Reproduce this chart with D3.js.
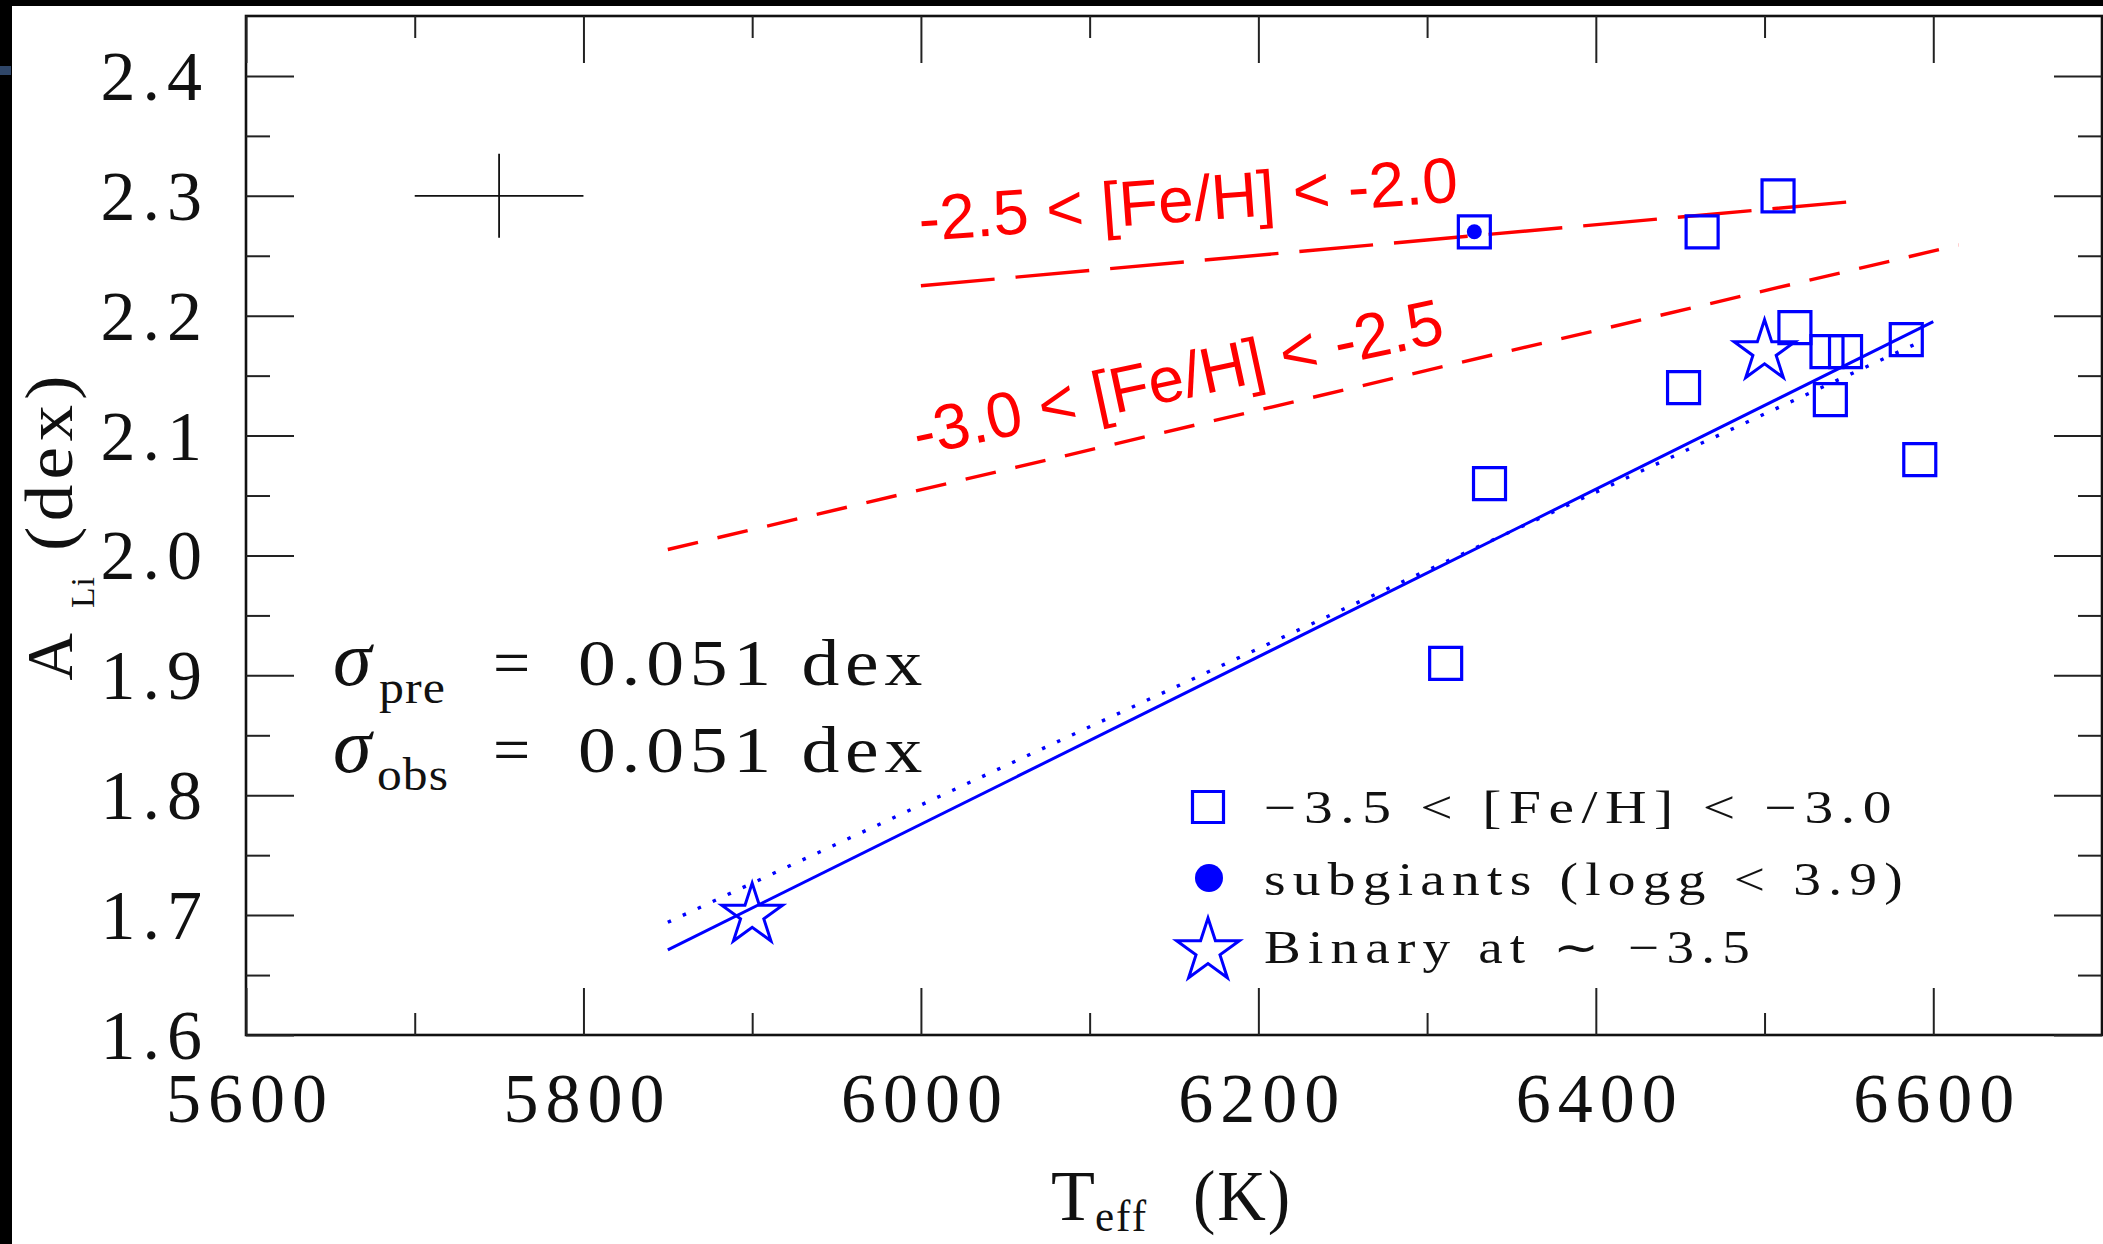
<!DOCTYPE html>
<html>
<head>
<meta charset="utf-8">
<script src="https://cdn.jsdelivr.net/npm/d3@7"></script>
<style>
  html, body { margin: 0; padding: 0; background: #fff; }
  svg { display: block; }
  .serif { font-family: "Liberation Serif", "Times New Roman", serif; fill: #111; }
  .sans { font-family: "Liberation Sans", Arial, sans-serif; }
</style>
</head>
<body>
<svg id="chart" width="2103" height="1244"></svg>
<script>
// Li abundance vs effective temperature, -3.5 < [Fe/H] < -3.0 stars
const starTeff = [6328, 6463, 6508, 6518, 6537, 6548, 6539, 6584, 6592, 6452, 6337, 6311];
const starALi  = [2.27, 2.27, 2.30, 2.19, 2.17, 2.17, 2.13, 2.18, 2.08, 2.14, 2.06, 1.91];

// subgiants (logg < 3.9)
const subgiantTeff = [6328];
const subgiantALi  = [2.27];

// binary system at [Fe/H] ~ -3.5
const binaryTeff = [6500, 5900];
const binaryALi  = [2.17, 1.70];

// linear fits (end points)
const fitTeff      = [5850, 6600];
const fitALi       = [1.671, 2.195];
const fitAltTeff   = [5850, 6595];
const fitAltALi    = [1.694, 2.180];
const metalRichTeff = [6000, 6550];   // -2.5 < [Fe/H] < -2.0
const metalRichALi  = [2.225, 2.295];
const metalMidTeff  = [5850, 6615];   // -3.0 < [Fe/H] < -2.5
const metalMidALi   = [2.005, 2.259];

// typical error bar
const errTeff = [5750];
const errALi = [2.30];
const errTeffHalf = 50;
const errALiHalf = 0.035;

// axes
const xDomain = [5600, 6700];
const yDomain = [1.6, 2.45];
const xMajorTicks = [5600, 5800, 6000, 6200, 6400, 6600];
const xMinorTicks = [5700, 5900, 6100, 6300, 6500];
const yMajorTicks = [1.6, 1.7, 1.8, 1.9, 2.0, 2.1, 2.2, 2.3, 2.4];
const yMinorTicks = [1.65, 1.75, 1.85, 1.95, 2.05, 2.15, 2.25, 2.35];

const legendLabels = ["\u22123.5 < [Fe/H] < \u22123.0", "subgiants (logg < 3.9)", "Binary at \u223C \u22123.5"];
const fitLabels = ["-2.5 < [Fe/H] < -2.0", "-3.0 < [Fe/H] < -2.5"];
const sigmaLabels = [["pre", "0.051 dex"], ["obs", "0.051 dex"]];

const BLUE = "#0000ff", RED = "#ff0000";

const svg = d3.select("#chart");
svg.append("rect").attr("width", 2103).attr("height", 1244).attr("fill", "#fff");
// dark page edges
svg.append("rect").attr("x", 0).attr("y", 0).attr("width", 2103).attr("height", 6).attr("fill", "#000");
svg.append("rect").attr("x", 0).attr("y", 0).attr("width", 12).attr("height", 1244).attr("fill", "#000");
svg.append("rect").attr("x", 0).attr("y", 66).attr("width", 11).attr("height", 9).attr("fill", "#2f4668");

const L = 246, R = 2102, T = 16, B = 1035;
const x = d3.scaleLinear().domain(xDomain).range([L, R]);
const y = d3.scaleLinear().domain(yDomain).range([B, T]);

// frame
svg.append("rect").attr("x", L).attr("y", T).attr("width", R - L).attr("height", B - T)
  .attr("fill", "none").attr("stroke", "#111").attr("stroke-width", 2.6);

function styleAxis(g) {
  g.select(".domain").remove();
  g.selectAll(".tick line").attr("stroke", "#222").attr("stroke-width", 2);
}

// bottom axis
svg.append("g").attr("transform", `translate(0,${B})`)
  .call(d3.axisBottom(x).tickValues(xMajorTicks).tickSizeInner(-47).tickSizeOuter(0).tickFormat(d3.format("d")))
  .call(styleAxis)
  .call(g => g.selectAll("text")
    .attr("class", "serif").attr("y", 87).attr("dy", 0).attr("dx", 3.5)
    .style("font-size", "70px").style("letter-spacing", "7px").attr("fill", "#111"));
svg.append("g").attr("transform", `translate(0,${B})`)
  .call(d3.axisBottom(x).tickValues(xMinorTicks).tickSizeInner(-22).tickSizeOuter(0).tickFormat(""))
  .call(styleAxis);
// top axis
svg.append("g").attr("transform", `translate(0,${T})`)
  .call(d3.axisTop(x).tickValues(xMajorTicks).tickSizeInner(-47).tickSizeOuter(0).tickFormat(""))
  .call(styleAxis);
svg.append("g").attr("transform", `translate(0,${T})`)
  .call(d3.axisTop(x).tickValues(xMinorTicks).tickSizeInner(-22).tickSizeOuter(0).tickFormat(""))
  .call(styleAxis);
// left axis
svg.append("g").attr("transform", `translate(${L},0)`)
  .call(d3.axisLeft(y).tickValues(yMajorTicks).tickSizeInner(-48).tickSizeOuter(0).tickFormat(d3.format(".1f")))
  .call(styleAxis)
  .call(g => g.selectAll("text")
    .attr("class", "serif").attr("x", -37).attr("dy", "0.335em")
    .style("font-size", "70px").style("letter-spacing", "7px").attr("fill", "#111"));
svg.append("g").attr("transform", `translate(${L},0)`)
  .call(d3.axisLeft(y).tickValues(yMinorTicks).tickSizeInner(-24).tickSizeOuter(0).tickFormat(""))
  .call(styleAxis);
// right axis
svg.append("g").attr("transform", `translate(${R},0)`)
  .call(d3.axisRight(y).tickValues(yMajorTicks).tickSizeInner(-48).tickSizeOuter(0).tickFormat(""))
  .call(styleAxis);
svg.append("g").attr("transform", `translate(${R},0)`)
  .call(d3.axisRight(y).tickValues(yMinorTicks).tickSizeInner(-24).tickSizeOuter(0).tickFormat(""))
  .call(styleAxis);

// text stretched to a given width, glyphs widened slightly as in the plotting font
function fit(sel, width, spacing) {
  return sel.style("letter-spacing", spacing + "px")
    .attr("textLength", width).attr("lengthAdjust", "spacingAndGlyphs");
}

// axis titles
const xt = svg.append("g").attr("class", "serif");
xt.append("text").attr("x", 1051).attr("y", 1220).style("font-size", "72px").text("T");
xt.append("text").attr("x", 1095).attr("y", 1231).style("font-size", "44px")
  .call(fit, 53, 2).text("eff");
xt.append("text").attr("x", 1193).attr("y", 1220).style("font-size", "72px")
  .call(fit, 99, 2).text("(K)");

const yt = svg.append("g").attr("class", "serif");
yt.append("text").attr("transform", "translate(72,657) rotate(-90)").attr("text-anchor", "middle")
  .style("font-size", "66px").text("A");
yt.append("text").attr("transform", "translate(94,608) rotate(-90)")
  .style("font-size", "34px").call(fit, 32, 1).text("Li");
yt.append("text").attr("transform", "translate(72,551) rotate(-90)")
  .style("font-size", "68px").call(fit, 181, 5).text("(dex)");

// typical error cross
const err = svg.append("g").attr("stroke", "#111").attr("stroke-width", 1.8);
err.selectAll(".eh").data(errTeff).join("line")
  .attr("x1", (d) => x(d - errTeffHalf)).attr("x2", (d) => x(d + errTeffHalf))
  .attr("y1", (d, i) => y(errALi[i])).attr("y2", (d, i) => y(errALi[i]));
err.selectAll(".ev").data(errTeff).join("line")
  .attr("x1", (d) => x(d)).attr("x2", (d) => x(d))
  .attr("y1", (d, i) => y(errALi[i] - errALiHalf)).attr("y2", (d, i) => y(errALi[i] + errALiHalf));

// fit lines
const line = d3.line().x(d => x(d[0])).y(d => y(d[1]));
function drawFit(teff, ali, color, width, dash) {
  svg.append("path").datum(d3.zip(teff, ali)).attr("d", line)
    .attr("fill", "none").attr("stroke", color).attr("stroke-width", width)
    .attr("stroke-dasharray", dash);
}
drawFit(metalRichTeff, metalRichALi, RED, 3.4, "74,21");
drawFit(metalMidTeff, metalMidALi, RED, 3.4, "31,20");
drawFit(fitTeff, fitALi, BLUE, 3, null);
drawFit(fitAltTeff, fitAltALi, BLUE, 3.4, "3.5,13");

// fit labels
const fitLabelPos = [[920, 241, -4.2], [918, 456, -12.2]];
svg.selectAll(".fitlab").data(fitLabels).join("text")
  .attr("class", "sans").attr("fill", RED).style("font-size", "64px")
  .attr("transform", (d, i) => `translate(${fitLabelPos[i][0]},${fitLabelPos[i][1]}) rotate(${fitLabelPos[i][2]})`)
  .text(d => d);

// symbols
const sqPath = d3.symbol(d3.symbolSquare, 32 * 32)();
const starPath = d3.symbol(d3.symbolStar, 32 * 32 / 0.8908130915292852)();

svg.append("g").selectAll("path").data(d3.zip(starTeff, starALi)).join("path")
  .attr("d", sqPath).attr("transform", d => `translate(${x(d[0])},${y(d[1])})`)
  .attr("fill", "none").attr("stroke", BLUE).attr("stroke-width", 3.2);

svg.append("g").selectAll("circle").data(d3.zip(subgiantTeff, subgiantALi)).join("circle")
  .attr("cx", d => x(d[0])).attr("cy", d => y(d[1])).attr("r", 7.5).attr("fill", BLUE);

svg.append("g").selectAll("path").data(d3.zip(binaryTeff, binaryALi)).join("path")
  .attr("d", starPath).attr("transform", d => `translate(${x(d[0])},${y(d[1])})`)
  .attr("fill", "none").attr("stroke", BLUE).attr("stroke-width", 3)
  .attr("stroke-linejoin", "miter");

// legend
const lg = svg.append("g");
lg.append("path").attr("d", d3.symbol(d3.symbolSquare, 31 * 31)()).attr("transform", "translate(1208,807)")
  .attr("fill", "none").attr("stroke", BLUE).attr("stroke-width", 3.2);
lg.append("circle").attr("cx", 1209).attr("cy", 878).attr("r", 14).attr("fill", BLUE);
lg.append("path").attr("d", d3.symbol(d3.symbolStar, 33 * 33 / 0.8908130915292852)()).attr("transform", "translate(1208,951)")
  .attr("fill", "none").attr("stroke", BLUE).attr("stroke-width", 3);
const legendBase = [823, 895, 963];
const legendWidth = [635, 646, 493];
lg.selectAll("text").data(legendLabels).join("text")
  .attr("class", "serif").attr("x", 1264).attr("y", (d, i) => legendBase[i])
  .style("font-size", "46px").style("letter-spacing", "6px")
  .attr("textLength", (d, i) => legendWidth[i]).attr("lengthAdjust", "spacingAndGlyphs")
  .text(d => d);

// scatter statistics
const sg = svg.append("g").attr("class", "serif");
const rowBase = [685, 772];
const subX = [379, 377], subW = [67, 72];
sigmaLabels.forEach((row, i) => {
  sg.append("text").attr("x", 333).attr("y", rowBase[i]).style("font-size", "78px").style("font-style", "italic").text("\u03C3");
  sg.append("text").attr("x", subX[i]).attr("y", rowBase[i] + 18).style("font-size", "46px")
    .call(fit, subW[i], 1).text(row[0]);
  sg.append("text").attr("x", 493).attr("y", rowBase[i]).style("font-size", "66px").text("=");
  sg.append("text").attr("x", 578).attr("y", rowBase[i]).style("font-size", "66px")
    .call(fit, 350, 5).text(row[1]);
});
</script>
</body>
</html>
